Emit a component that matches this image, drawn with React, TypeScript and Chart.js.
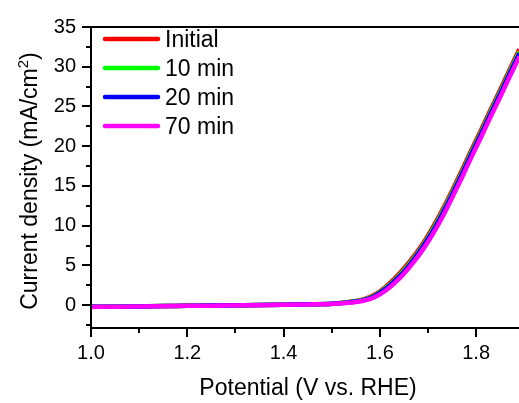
import React, { useEffect, useRef } from "react";
import { Chart, registerables } from "chart.js";

Chart.register(...registerables);

// Potential (V vs. RHE)
const potentials = [
  1.0, 1.05, 1.1, 1.15, 1.2, 1.25, 1.3, 1.35, 1.4, 1.45, 1.5,
  1.53, 1.55, 1.57, 1.59, 1.61, 1.63, 1.65, 1.67, 1.69, 1.71, 1.73,
  1.75, 1.77, 1.79, 1.81, 1.83, 1.85, 1.87, 1.89,
];

// Current density (mA/cm²)
const initialCurve = [
  -0.2, -0.18, -0.15, -0.12, -0.08, -0.05, -0.02, 0.01, 0.05, 0.1, 0.18,
  0.35, 0.52, 0.82, 1.35, 2.2, 3.3, 4.6, 6.1, 7.8, 9.8, 12.0,
  14.4, 16.9, 19.5, 22.0, 24.6, 27.1, 29.7, 32.2,
];
const min10Curve = [
  -0.2, -0.18, -0.15, -0.12, -0.08, -0.05, -0.02, 0.01, 0.05, 0.1, 0.17,
  0.32, 0.48, 0.75, 1.22, 2.05, 3.1, 4.35, 5.85, 7.55, 9.5, 11.7,
  14.1, 16.6, 19.2, 21.7, 24.3, 26.8, 29.4, 31.9,
];
const min20Curve = [
  -0.21, -0.19, -0.16, -0.12, -0.09, -0.05, -0.02, 0.01, 0.05, 0.1, 0.17,
  0.3, 0.45, 0.7, 1.15, 1.95, 3.0, 4.2, 5.7, 7.4, 9.3, 11.5,
  13.9, 16.4, 19.0, 21.5, 24.1, 26.6, 29.2, 31.7,
];
const min70Curve = [
  -0.22, -0.2, -0.17, -0.13, -0.09, -0.06, -0.03, 0.0, 0.04, 0.09, 0.16,
  0.28, 0.4, 0.62, 1.02, 1.75, 2.75, 3.95, 5.4, 7.05, 8.95, 11.1,
  13.5, 16.0, 18.6, 21.1, 23.7, 26.2, 28.8, 31.3,
];

const seriesLabels = ["Initial", "10 min", "20 min", "70 min"];
const seriesValues = [initialCurve, min10Curve, min20Curve, min70Curve];
const seriesColors = ["#FF0000", "#00FF00", "#0000FF", "#FF00FF"];

const xMajorTicks = [1.0, 1.2, 1.4, 1.6, 1.8];
const xMinorTicks = [1.1, 1.3, 1.5, 1.7];
const yMajorTicks = [0, 5, 10, 15, 20, 25, 30, 35];
const yMinorTicks = [-2.5, 2.5, 7.5, 12.5, 17.5, 22.5, 27.5, 32.5];

const xTitle = "Potential (V vs. RHE)";
const yTitleMain = "Current density (mA/cm";
const yTitleSup = "2";
const yTitleEnd = ")";

const FONT = "'Liberation Sans', Arial, sans-serif";

const decorPlugin = {
  id: "decor",
  afterDatasetsDraw(chart: any) {
    const { ctx, chartArea, scales } = chart;
    const { left, top, right, bottom } = chartArea;
    const xs = scales.x;
    const ys = scales.y;
    ctx.save();
    ctx.strokeStyle = "#000";
    ctx.lineWidth = 2;
    ctx.lineCap = "butt";
    ctx.beginPath();
    ctx.moveTo(left - 1, top);
    ctx.lineTo(right, top);
    ctx.moveTo(left, top);
    ctx.lineTo(left, bottom + 1);
    ctx.moveTo(left - 1, bottom);
    ctx.lineTo(right, bottom);
    xMajorTicks.forEach((v) => {
      const px = Math.round(xs.getPixelForValue(v));
      ctx.moveTo(px, bottom);
      ctx.lineTo(px, bottom + 9);
    });
    xMinorTicks.forEach((v) => {
      const px = Math.round(xs.getPixelForValue(v));
      ctx.moveTo(px, bottom);
      ctx.lineTo(px, bottom + 5);
    });
    yMajorTicks.forEach((v) => {
      const py = Math.round(ys.getPixelForValue(v));
      ctx.moveTo(left, py);
      ctx.lineTo(left - 9, py);
    });
    yMinorTicks.forEach((v) => {
      const py = Math.round(ys.getPixelForValue(v));
      ctx.moveTo(left, py);
      ctx.lineTo(left - 5, py);
    });
    ctx.stroke();
    ctx.restore();
  },
  afterDraw(chart: any) {
    const { ctx, chartArea } = chart;
    const { left, right } = chartArea;
    ctx.save();
    seriesLabels.forEach((label, i) => {
      const y = 39 + i * 29;
      ctx.strokeStyle = seriesColors[i];
      ctx.lineWidth = 4.5;
      ctx.lineCap = "round";
      ctx.beginPath();
      ctx.moveTo(105, y);
      ctx.lineTo(158, y);
      ctx.stroke();
      ctx.fillStyle = "#000";
      ctx.font = `23px ${FONT}`;
      ctx.textAlign = "left";
      ctx.textBaseline = "alphabetic";
      ctx.fillText(label, 165, y + 8);
    });
    ctx.fillStyle = "#000";
    ctx.font = `23px ${FONT}`;
    ctx.textAlign = "center";
    ctx.textBaseline = "alphabetic";
    ctx.fillText(xTitle, (left + right) / 2 + 3, 395);
    ctx.translate(37, 181);
    ctx.rotate(-Math.PI / 2);
    ctx.font = `23px ${FONT}`;
    const w1 = ctx.measureText(yTitleMain).width;
    ctx.font = `15px ${FONT}`;
    const w2 = ctx.measureText(yTitleSup).width;
    ctx.font = `23px ${FONT}`;
    const w3 = ctx.measureText(yTitleEnd).width;
    const total = w1 + w2 + w3;
    let sx = -total / 2;
    ctx.textAlign = "left";
    ctx.fillText(yTitleMain, sx, 0);
    sx += w1;
    ctx.font = `15px ${FONT}`;
    ctx.fillText(yTitleSup, sx, -9);
    sx += w2;
    ctx.font = `23px ${FONT}`;
    ctx.fillText(yTitleEnd, sx, 0);
    ctx.restore();
  },
};

export default function App() {
  const canvasRef = useRef<HTMLCanvasElement | null>(null);

  useEffect(() => {
    if (!canvasRef.current) return;
    const datasets = seriesLabels.map((label, i) => ({
      label,
      data: potentials.map((p, k) => ({ x: p, y: seriesValues[i][k] })),
      borderColor: seriesColors[i],
      backgroundColor: seriesColors[i],
      borderWidth: 4.5,
      pointRadius: 0,
      cubicInterpolationMode: "monotone" as const,
      fill: false,
      order: seriesLabels.length - i,
    }));
    const chart = new Chart(canvasRef.current, {
      type: "line",
      data: { datasets },
      options: {
        animation: false,
        responsive: true,
        maintainAspectRatio: false,
        events: [],
        layout: { padding: { top: 25, right: 0, left: 0, bottom: 0 } },
        plugins: {
          legend: { display: false },
          tooltip: { enabled: false },
          title: { display: false },
        },
        scales: {
          x: {
            type: "linear",
            min: 1.0,
            max: 1.889,
            grid: { display: false, drawTicks: false },
            border: { display: false },
            afterBuildTicks: (scale: any) => {
              scale.ticks = xMajorTicks.map((v) => ({ value: v }));
            },
            afterFit: (scale: any) => {
              scale.height = 75;
            },
            ticks: {
              padding: 13,
              color: "#000",
              font: { family: FONT, size: 20 },
              callback: (v: any) => Number(v).toFixed(1),
              maxRotation: 0,
            },
          },
          y: {
            type: "linear",
            min: -2.875,
            max: 35,
            grid: { display: false, drawTicks: false },
            border: { display: false },
            afterBuildTicks: (scale: any) => {
              scale.ticks = yMajorTicks.map((v) => ({ value: v }));
            },
            afterFit: (scale: any) => {
              scale.width = 91;
            },
            ticks: {
              padding: 15,
              color: "#000",
              font: { family: FONT, size: 20 },
              callback: (v: any) => String(v),
            },
          },
        },
      },
      plugins: [decorPlugin],
    });
    return () => chart.destroy();
  }, []);

  return (
    <div style={{ position: "absolute", left: 0, top: 0, width: 519, height: 403, background: "#fff" }}>
      <canvas ref={canvasRef} />
    </div>
  );
}
